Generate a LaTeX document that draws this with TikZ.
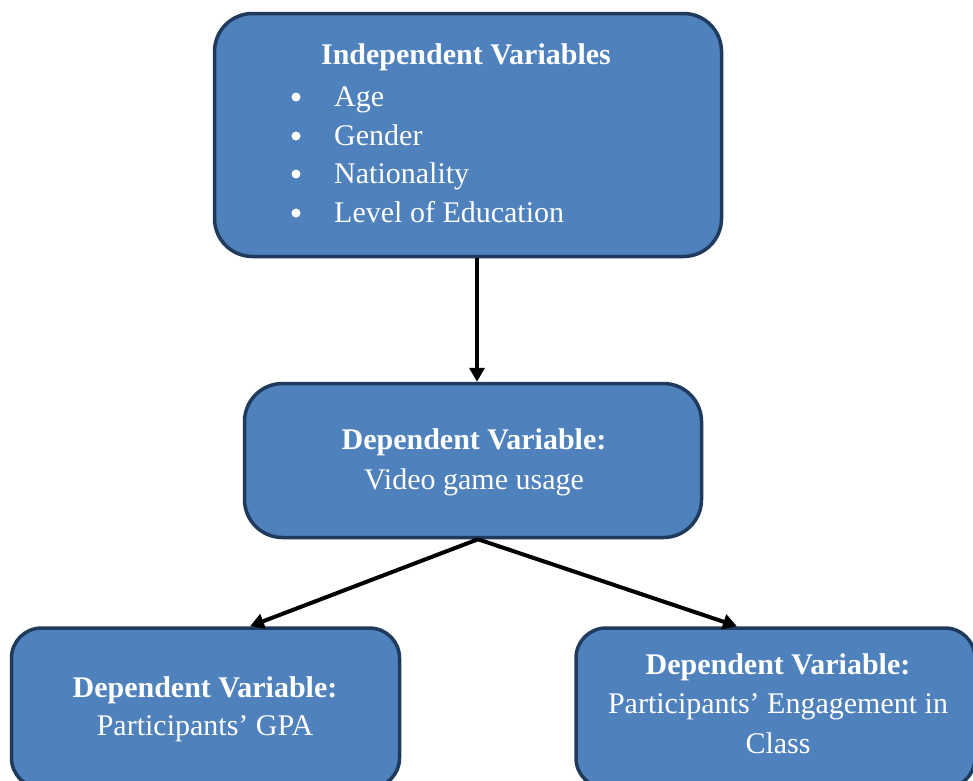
\documentclass[tikz,border=0pt]{standalone}
\usepackage{fontspec}
\setmainfont{Liberation Serif}
\usetikzlibrary{arrows.meta,calc}
\definecolor{boxfill}{HTML}{4F81BD}
\definecolor{boxline}{HTML}{1F3A5C}
\begin{document}
\begin{tikzpicture}[x=1pt,y=-1pt,
  box/.style={draw=boxline, line width=3.5pt, fill=boxfill, inner sep=0pt},
  txt/.style={text=white, font=\fontsize{30}{38}\selectfont, anchor=base, inner sep=0pt},
  ttl/.style={text=white, font=\fontsize{30}{38}\selectfont\bfseries, anchor=base, inner sep=0pt},
  dot/.style={circle, fill=white, draw=none, minimum size=9pt, inner sep=0pt},
  arr/.style={line width=4pt, draw=black, -{Triangle[length=14pt,width=15pt]}}]
\useasboundingbox (0,0) rectangle (973,780);
\clip (0,0) rectangle (973,780);
% boxes
\node[box, rounded corners=38pt, minimum width=507pt, minimum height=243pt] (iv) at (468,135) {};
\node[box, rounded corners=38pt, minimum width=457pt, minimum height=154pt] (dv) at (473,460.5) {};
\node[box, rounded corners=30pt, minimum width=388pt, minimum height=160pt] (gpa) at (205.5,708) {};
\node[box, rounded corners=30pt, minimum width=399pt, minimum height=160pt] (eng) at (775.5,708) {};
% connectors
\coordinate (ax) at (477,0);
\draw[arr] (iv.south -| ax) -- (dv.north -| ax);
\coordinate (split) at ($(dv.south)+(5,0)$);
\draw[arr] (split) -- ($(gpa.north)+(44.5,0)$);
\draw[arr] (split) -- ($(eng.north)+(-38.5,0)$);
% texts of top box
\node[ttl] (ivT) at (466,64) {Independent Variables};
\node[dot] (b1) at (296,97) {};
\node[dot] (b2) at (296,136) {};
\node[dot] (b3) at (296,174) {};
\node[dot] (b4) at (296,213) {};
\node[txt, anchor=base west] (t1) at (334,106) {Age};
\node[txt, anchor=base west] (t2) at (334,145) {Gender};
\node[txt, anchor=base west] (t3) at (334,183) {Nationality};
\node[txt, anchor=base west] (t4) at (334,222) {Level of Education};
% middle
\node[ttl] (dvT) at (474,449) {Dependent Variable:};
\node[txt] (dvX) at (474,489) {Video game usage};
% bottom left
\node[ttl] (gpaT) at (205,697) {Dependent Variable:};
\node[txt] (gpaX) at (205,735) {Participants’ GPA};
% bottom right
\node[ttl] (engT) at (778,674) {Dependent Variable:};
\node[txt] (engX) at (778,713) {Participants’ Engagement in};
\node[txt] (engY) at (778,753) {Class};
\end{tikzpicture}
\end{document}
